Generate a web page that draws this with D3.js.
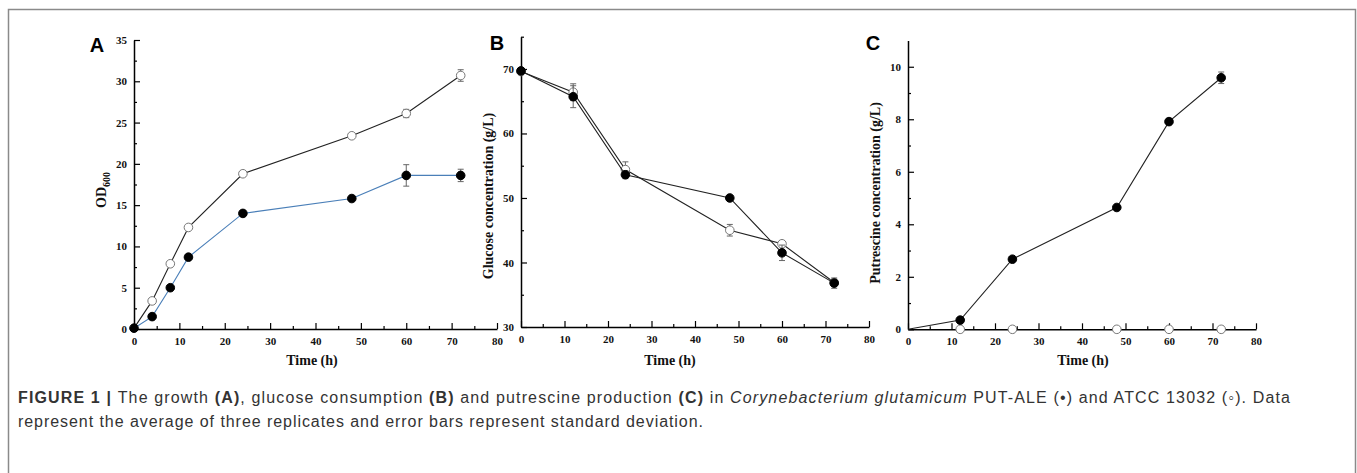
<!DOCTYPE html>
<html>
  <head>
    <meta charset="utf-8"/>
    <script src="https://cdn.jsdelivr.net/npm/d3@7"></script>
    <style type="text/css">

html, body {
  margin: 0;
  padding: 0;
  background: #fff;
}

.tick text {
  font: bold 11px "Liberation Serif", "Times New Roman", serif;
  fill: #111;
}

.axis-title {
  font: bold 14px "Liberation Serif", "Times New Roman", serif;
  fill: #111;
}

.panel-letter {
  font: bold 20px "Liberation Sans", Arial, sans-serif;
  fill: #000;
}

.caption {
  font: 16px "Liberation Sans", Arial, sans-serif;
  fill: #333;
}

    </style>
  </head>
  <body>
    <svg id="fig" width="1357" height="473"></svg>
    <script type="text/javascript">

// sampling times (h)
var timeA = [0, 4, 8, 12, 24, 48, 60, 72];
var timeBC = [0, 12, 24, 48, 60, 72];

// A: OD600
var odPutAle   = [0.1, 1.5, 5.0, 8.7, 14.0, 15.8, 18.6, 18.6];
var odPutAleSd = [0, 0.1, 0.3, 0.2, 0.2, 0.2, 1.3, 0.75];
var odAtcc     = [0.1, 3.4, 7.9, 12.3, 18.8, 23.4, 26.1, 30.7];
var odAtccSd   = [0, 0.3, 0.2, 0.3, 0.2, 0.2, 0.5, 0.7];

// B: glucose (g/L)
var glcPutAle   = [69.7, 65.7, 53.6, 50.0, 41.5, 36.8];
var glcPutAleSd = [0.2, 1.7, 0.6, 0.2, 1.2, 0.8];
var glcAtcc     = [69.6, 66.4, 54.4, 45.0, 42.9, 36.9];
var glcAtccSd   = [0.2, 1.3, 1.2, 0.9, 0.4, 0.5];

// C: putrescine (g/L)
var putPutAle   = [0, 0.35, 2.67, 4.64, 7.91, 9.58];
var putPutAleSd = [0, 0.03, 0.08, 0.06, 0.1, 0.22];
var putAtcc     = [0, 0, 0, 0, 0, 0];
var putAtccSd   = [0, 0, 0, 0, 0, 0];

var svg = d3.select("#fig");

// outer frame
svg.append("rect")
    .attr("x", 8.5).attr("y", 9.5)
    .attr("width", 1347).attr("height", 470)
    .attr("fill", "none")
    .attr("stroke", "#8a8a8a")
    .attr("stroke-width", 1.5);

function panel(opt) {
  var x = d3.scaleLinear().domain([0, 80]).range([opt.x0, opt.x1]);
  var y = d3.scaleLinear().domain(opt.yDomain).range([opt.yBottom, opt.yTop]);
  var g = svg.append("g");

  // minor ticks
  g.append("g")
      .attr("transform", "translate(0," + opt.yBottom + ")")
      .call(d3.axisBottom(x).tickValues(d3.range(5, 80, 10)).tickSize(-3).tickFormat(""))
      .call(function(s) { s.select(".domain").remove(); });
  g.append("g")
      .attr("transform", "translate(" + opt.x0 + ",0)")
      .call(d3.axisLeft(y).tickValues(opt.yMinor).tickSize(-3).tickFormat(""))
      .call(function(s) { s.select(".domain").remove(); });

  // major axes
  var xa = g.append("g")
      .attr("transform", "translate(0," + opt.yBottom + ")")
      .call(d3.axisBottom(x).tickValues(d3.range(0, 81, 10)).tickSize(-6).tickSizeOuter(0).tickPadding(8));
  var ya = g.append("g")
      .attr("transform", "translate(" + opt.x0 + ",0)")
      .call(d3.axisLeft(y).tickValues(opt.yMajor).tickSize(-6).tickSizeOuter(0).tickPadding(7));
  [xa, ya].forEach(function(a) {
    a.select(".domain").attr("stroke", "#000").attr("stroke-width", 1.5);
  });
  g.selectAll("g.tick line").attr("stroke", "#000").attr("stroke-width", 1.2);

  var line = d3.line()
      .x(function(d) { return x(d[0]); })
      .y(function(d) { return y(d[1]); });

  opt.series.forEach(function(s) {
    var pts = opt.time.map(function(t, i) { return [t, s.values[i], s.sd[i]]; });

    if (s.line) {
      g.append("path")
          .datum(pts)
          .attr("d", line)
          .attr("fill", "none")
          .attr("stroke", s.line)
          .attr("stroke-width", 1.1);
    }

    // error bars
    var eb = g.append("g").attr("stroke", "#666").attr("stroke-width", 1);
    pts.filter(function(d) { return d[2] > 0; }).forEach(function(d) {
      var cx = x(d[0]), top = y(d[1] + d[2]), bot = y(d[1] - d[2]);
      eb.append("line").attr("x1", cx).attr("x2", cx).attr("y1", top).attr("y2", bot);
      eb.append("line").attr("x1", cx - 3).attr("x2", cx + 3).attr("y1", top).attr("y2", top);
      eb.append("line").attr("x1", cx - 3).attr("x2", cx + 3).attr("y1", bot).attr("y2", bot);
    });

    g.append("g").selectAll("circle")
        .data(s.skipFirst ? pts.slice(1) : pts)
        .enter().append("circle")
        .attr("cx", function(d) { return x(d[0]); })
        .attr("cy", function(d) { return y(d[1]); })
        .attr("r", 4.3)
        .attr("fill", s.filled ? "#000" : "#fff")
        .attr("stroke", s.filled ? "#000" : "#777")
        .attr("stroke-width", 1);
  });

  svg.append("text")
      .attr("class", "panel-letter")
      .attr("x", opt.letter[0]).attr("y", opt.letter[1])
      .attr("text-anchor", "middle")
      .text(opt.letterText);

  svg.append("text")
      .attr("class", "axis-title")
      .attr("x", opt.xTitle[0]).attr("y", opt.xTitle[1])
      .attr("text-anchor", "middle")
      .text("Time (h)");

  var yt = svg.append("text")
      .attr("class", "axis-title")
      .attr("text-anchor", "middle")
      .attr("transform", "translate(" + opt.yTitle[0] + "," + opt.yTitle[1] + ") rotate(-90)");
  if (opt.yTitleSub) {
    yt.attr("font-size", 16);
    yt.append("tspan").text(opt.yTitleText);
    yt.append("tspan").attr("dy", 4).attr("font-size", 10).text(opt.yTitleSub);
  } else {
    yt.text(opt.yTitleText);
  }
}

panel({
  x0: 134, x1: 497, yBottom: 329, yTop: 40,
  yDomain: [0, 35], yMajor: d3.range(0, 36, 5), yMinor: d3.range(2.5, 35, 5),
  time: timeA,
  series: [
    {values: odAtcc, sd: odAtccSd, line: "#222", filled: false, skipFirst: true},
    {values: odPutAle, sd: odPutAleSd, line: "#4a7fb8", filled: true}
  ],
  letter: [97, 52], letterText: "A",
  xTitle: [312, 365],
  yTitle: [106, 190], yTitleText: "OD", yTitleSub: "600"
});

panel({
  x0: 521, x1: 869, yBottom: 327, yTop: 36.7,
  yDomain: [30, 75], yMajor: d3.range(30, 71, 10), yMinor: d3.range(35, 76, 10),
  time: timeBC,
  series: [
    {values: glcAtcc, sd: glcAtccSd, line: "#222", filled: false},
    {values: glcPutAle, sd: glcPutAleSd, line: "#222", filled: true}
  ],
  letter: [497, 50], letterText: "B",
  xTitle: [670, 365],
  yTitle: [493, 196], yTitleText: "Glucose concentration (g/L)"
});

panel({
  x0: 908, x1: 1256, yBottom: 329.3, yTop: 40.5,
  yDomain: [0, 11], yMajor: d3.range(0, 11, 2), yMinor: d3.range(1, 11, 2),
  time: timeBC,
  series: [
    {values: putAtcc, sd: putAtccSd, line: null, filled: false, skipFirst: true},
    {values: putPutAle, sd: putPutAleSd, line: "#222", filled: true, skipFirst: true}
  ],
  letter: [873, 50], letterText: "C",
  xTitle: [1083, 365],
  yTitle: [880, 193], yTitleText: "Putrescine concentration (g/L)"
});

// caption
var cap1 = svg.append("text").attr("class", "caption").attr("x", 18).attr("y", 403)
    .attr("textLength", 1272).attr("lengthAdjust", "spacing");
cap1.append("tspan").attr("font-weight", "bold").text("FIGURE 1 | ");
cap1.append("tspan").text("The growth ");
cap1.append("tspan").attr("font-weight", "bold").text("(A)");
cap1.append("tspan").text(", glucose consumption ");
cap1.append("tspan").attr("font-weight", "bold").text("(B)");
cap1.append("tspan").text(" and putrescine production ");
cap1.append("tspan").attr("font-weight", "bold").text("(C)");
cap1.append("tspan").text(" in ");
cap1.append("tspan").attr("font-style", "italic").text("Corynebacterium glutamicum");
cap1.append("tspan").text(" PUT-ALE (\u2022) and ATCC 13032 (\u25E6). Data");

svg.append("text").attr("class", "caption").attr("x", 18).attr("y", 427)
    .attr("textLength", 685).attr("lengthAdjust", "spacing")
    .text("represent the average of three replicates and error bars represent standard deviation.");

    </script>
  </body>
</html>
